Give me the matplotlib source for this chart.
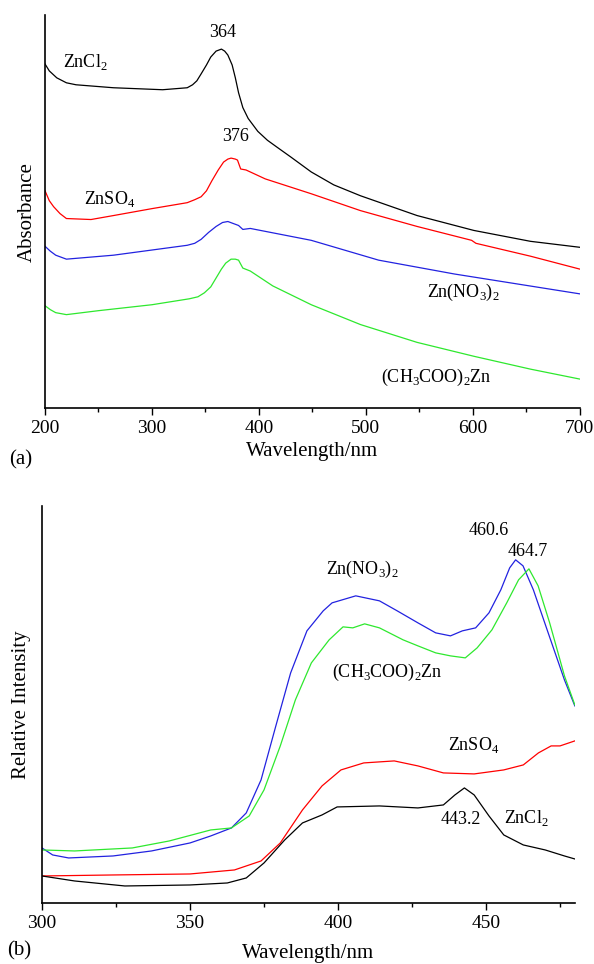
import matplotlib
matplotlib.use('Agg')
import matplotlib.pyplot as plt
from matplotlib.ticker import MultipleLocator

plt.rcParams['font.family'] = ['Liberation Serif', 'DejaVu Serif']
plt.rcParams['mathtext.fontset'] = 'custom'
plt.rcParams['mathtext.rm'] = 'Liberation Serif'

# (a) absorbance spectra, arbitrary units
wl_cl = [200, 204, 211, 220, 229, 264, 310, 333, 338, 342, 346, 351, 355, 360, 365, 368, 371, 375, 378, 381, 385,
         390, 399, 408, 417, 430, 449, 470, 495, 548, 601, 654, 700]
abs_cl = [347, 340, 333, 328, 326, 323, 321, 323, 326, 330, 337, 346, 354, 360, 362, 360, 356, 346, 333, 318, 303,
          292, 279, 270, 263, 253, 238, 225, 214, 194, 179, 168, 162]

wl_so4 = [200, 204, 208, 214, 220, 243, 264, 300, 333, 340, 346, 351, 356, 362, 367, 371, 374, 378, 380, 383, 388,
          406, 449, 495, 548, 599, 603, 654, 700]
abs_so4 = [219, 209, 203, 196, 191, 190, 194, 201, 207, 210, 213, 219, 229, 240, 248, 251, 252, 251, 250, 241, 240,
           231, 216, 199, 183, 169, 166, 153, 140]

wl_no3 = [200, 205, 210, 220, 264, 333, 340, 346, 353, 360, 366, 371, 376, 381, 385, 392, 449, 512, 583, 700]
abs_no3 = [163, 158, 154, 150, 154, 164, 166, 170, 177, 183, 187, 188, 186, 184, 180, 181, 169, 149, 135, 115]

wl_ac = [200, 205, 210, 220, 250, 300, 335, 343, 349, 355, 360, 365, 369, 374, 378, 381, 385, 392, 413, 449, 495,
         548, 601, 654, 700]
abs_ac = [103, 99, 96, 94, 98, 104, 110, 112, 116, 122, 131, 140, 146, 150, 150, 149, 141, 138, 123, 104, 84,
          66, 52, 39, 29]

# (b) emission spectra
wl_b_no3 = [300, 303.6, 309, 324, 337, 350, 357, 364, 369, 374, 379, 384, 389.5, 395, 398, 406, 414, 420, 427,
            433, 438, 442, 446.5, 451, 455, 458, 460, 462.5, 466, 471, 476.5, 480]
pl_no3 = [55, 48, 45, 47, 52, 60, 67, 75, 90, 123, 177, 230, 272, 292, 300, 307, 302, 292, 280,
          270, 267, 272, 275, 290, 313, 335, 343, 337, 313, 270, 223, 197]

wl_b_ac = [300, 311, 330.5, 343, 357, 364, 370, 375, 380.5, 385.6, 391, 397, 401.7, 405, 409, 414, 422, 427,
           433, 438, 443, 447, 452, 457, 461, 464.5, 467.6, 471.5, 476.5, 480]
pl_ac = [53, 52, 55, 62, 73, 75, 87, 113, 157, 203, 240, 263, 276, 275, 279, 275, 263, 257,
         250, 247, 245, 255, 273, 300, 323, 334, 317, 280, 227, 198]

wl_b_so4 = [300, 324, 350, 365, 374, 380.5, 388, 394.6, 401, 408.7, 419, 427, 435.6, 446, 456, 462.6, 467.7, 472, 475, 480]
pl_so4 = [27, 28, 29, 33, 42, 60, 93, 117, 133, 140, 142, 137, 130, 129, 133, 138, 150, 157, 157, 162]

wl_b_cl = [300, 311, 328, 350, 362.6, 369, 375, 382, 388, 394.6, 399.7, 414, 427, 435.6, 439.5, 442.7, 446,
           451, 456, 462.6, 470, 476.5, 480]
pl_cl = [27, 22, 17, 18, 20, 25, 40, 63, 80, 88, 96, 97, 95, 98, 108, 115, 108,
         87, 68, 58, 53, 47, 44]

GREEN = '#2ee82e'
BLUE = '#2222e0'
fs_tick = 14
fs_lab = 13


def style_axes(ax):
    ax.spines['top'].set_visible(False)
    ax.spines['right'].set_visible(False)
    ax.spines['left'].set_linewidth(1.2)
    ax.spines['bottom'].set_linewidth(1.2)
    ax.set_yticks([])
    ax.tick_params(axis='x', which='major', direction='out', length=5, width=1, labelsize=fs_tick)
    ax.tick_params(axis='x', which='minor', direction='out', length=3, width=1)


fig = plt.figure(figsize=(5.94, 9.64), dpi=100)

ax1 = fig.add_axes([0.0758, 0.577, 0.900, 0.407])
ax1.plot(wl_cl, abs_cl, color='black', lw=0.9)
ax1.plot(wl_so4, abs_so4, color='red', lw=0.9)
ax1.plot(wl_no3, abs_no3, color=BLUE, lw=0.9)
ax1.plot(wl_ac, abs_ac, color=GREEN, lw=0.9)
ax1.set_xlim(200, 700)
ax1.set_ylim(0, 396)
ax1.xaxis.set_major_locator(MultipleLocator(100))
ax1.xaxis.set_minor_locator(MultipleLocator(50))
style_axes(ax1)
ax1.set_xlabel('Wavelength/nm', fontsize=15, labelpad=4)
ax1.set_ylabel('Absorbance', fontsize=15, labelpad=6)

ax1.text(217, 349, r'ZnCl$_2$', fontsize=fs_lab, va='center')
ax1.text(366, 379, '364', fontsize=fs_lab, ha='center', va='center')
ax1.text(378, 274, '376', fontsize=fs_lab, ha='center', va='center')
ax1.text(236, 211, r'ZnSO$_4$', fontsize=fs_lab, va='center')
ax1.text(557, 116, r'Zn(NO$_3$)$_2$', fontsize=fs_lab, va='center')
ax1.text(514, 31, r'(CH$_3$COO)$_2$Zn', fontsize=fs_lab, va='center')
fig.text(0.015, 0.523, '(a)', fontsize=15, va='center')

ax2 = fig.add_axes([0.0707, 0.0633, 0.897, 0.412])
ax2.plot(wl_b_no3, pl_no3, color=BLUE, lw=0.9)
ax2.plot(wl_b_ac, pl_ac, color=GREEN, lw=0.9)
ax2.plot(wl_b_so4, pl_so4, color='red', lw=0.9)
ax2.plot(wl_b_cl, pl_cl, color='black', lw=0.9)
ax2.set_xlim(300, 480)
ax2.set_ylim(0, 397)
ax2.xaxis.set_major_locator(MultipleLocator(50))
ax2.xaxis.set_minor_locator(MultipleLocator(25))
style_axes(ax2)
ax2.set_xlabel('Wavelength/nm', fontsize=15, labelpad=9)
ax2.set_ylabel('Relative Intensity', fontsize=15, labelpad=8)

ax2.text(396, 333, r'Zn(NO$_3$)$_2$', fontsize=fs_lab, va='center')
ax2.text(398, 230, r'(CH$_3$COO)$_2$Zn', fontsize=fs_lab, va='center')
ax2.text(437, 158, r'ZnSO$_4$', fontsize=fs_lab, va='center')
ax2.text(456, 85, r'ZnCl$_2$', fontsize=fs_lab, va='center')
ax2.text(434.6, 83, '443.2', fontsize=fs_lab, va='center')
ax2.text(444, 372, '460.6', fontsize=fs_lab, va='center')
ax2.text(457.4, 351, '464.7', fontsize=fs_lab, va='center')
fig.text(0.012, 0.014, '(b)', fontsize=15, va='center')

fig.savefig('out.png', dpi=100)
